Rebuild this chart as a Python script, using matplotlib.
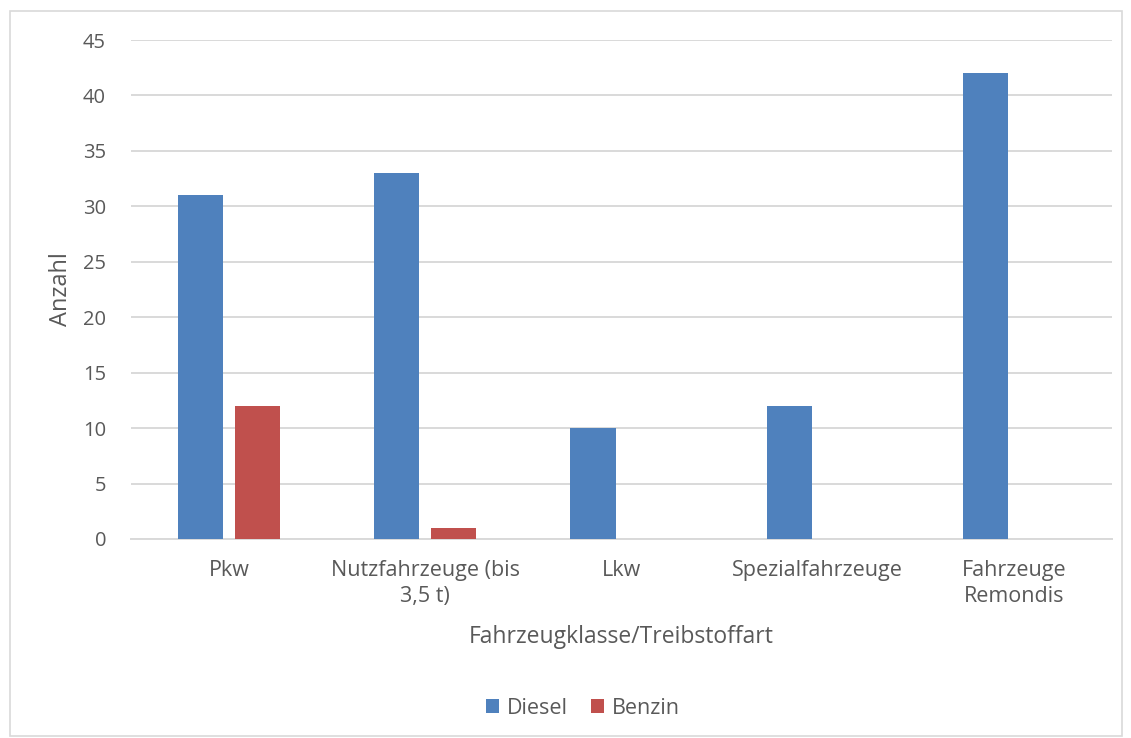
import matplotlib
matplotlib.use("Agg")
import matplotlib.pyplot as plt
import numpy as np
from matplotlib.patches import Rectangle

categories = ["Pkw", "Nutzfahrzeuge (bis\n3,5 t)", "Lkw", "Spezialfahrzeuge", "Fahrzeuge\nRemondis"]
diesel = [31, 33, 10, 12, 42]
benzin = [12, 1, 0, 0, 0]
series_names = ["Diesel", "Benzin"]
yticks = [0, 5, 10, 15, 20, 25, 30, 35, 40, 45]

plt.rcParams['font.family'] = ['Open Sans', 'DejaVu Sans']
txt = '#595959'

fig = plt.figure(figsize=(11.31, 7.38), dpi=100)
W, H = 1131, 738
ax = fig.add_axes([131/W, 1-539/H, (1112-131)/W, (539-40)/H])

x = np.arange(len(categories))
bw = 0.23
off = 0.145
ax.bar(x - off, diesel, bw, color='#4F81BD', label=series_names[0], zorder=3)
ax.bar(x + off, benzin, bw, color='#C0504D', label=series_names[1], zorder=3)

ax.set_xlim(-0.5, len(categories) - 0.5)
ax.set_ylim(0, 45)
ax.set_yticks(yticks)
ax.set_xticks(x)
ax.set_xticklabels(categories, fontsize=15.5, color=txt, linespacing=1.3)
ax.tick_params(axis='y', labelsize=14.5, labelcolor=txt, length=0, pad=18)
ax.tick_params(axis='x', length=0, pad=15)
ax.yaxis.grid(True, color='#d9d9d9', linewidth=1.4, zorder=0)
for s in ['top', 'right', 'left']:
    ax.spines[s].set_visible(False)
ax.spines['bottom'].set_color('#d9d9d9')
ax.spines['bottom'].set_linewidth(1.4)

ax.set_ylabel("Anzahl", fontsize=17, color=txt)
ax.yaxis.set_label_coords((61 - 131) / (1112 - 131), 0.5)
ax.yaxis.label.set_va('center')
fig.text(621/W, 1-637/H, "Fahrzeugklasse/Treibstoffart", fontsize=16.5, color=txt,
         ha='center', va='center')

leg = fig.legend(loc='center', bbox_to_anchor=(583/W, 1-708/H), ncol=2, frameon=False,
                 fontsize=15.5, handlelength=0.6, handleheight=0.6, columnspacing=1.1,
                 handletextpad=0.35)
for t in leg.get_texts():
    t.set_color(txt)

fig.patches.append(Rectangle((10/W, 1-736/H), (1122-10)/W, (736-11)/H, transform=fig.transFigure,
                             fill=False, edgecolor='#d9d9d9', linewidth=1.2))

fig.savefig("out.png", dpi=100, facecolor='white')
